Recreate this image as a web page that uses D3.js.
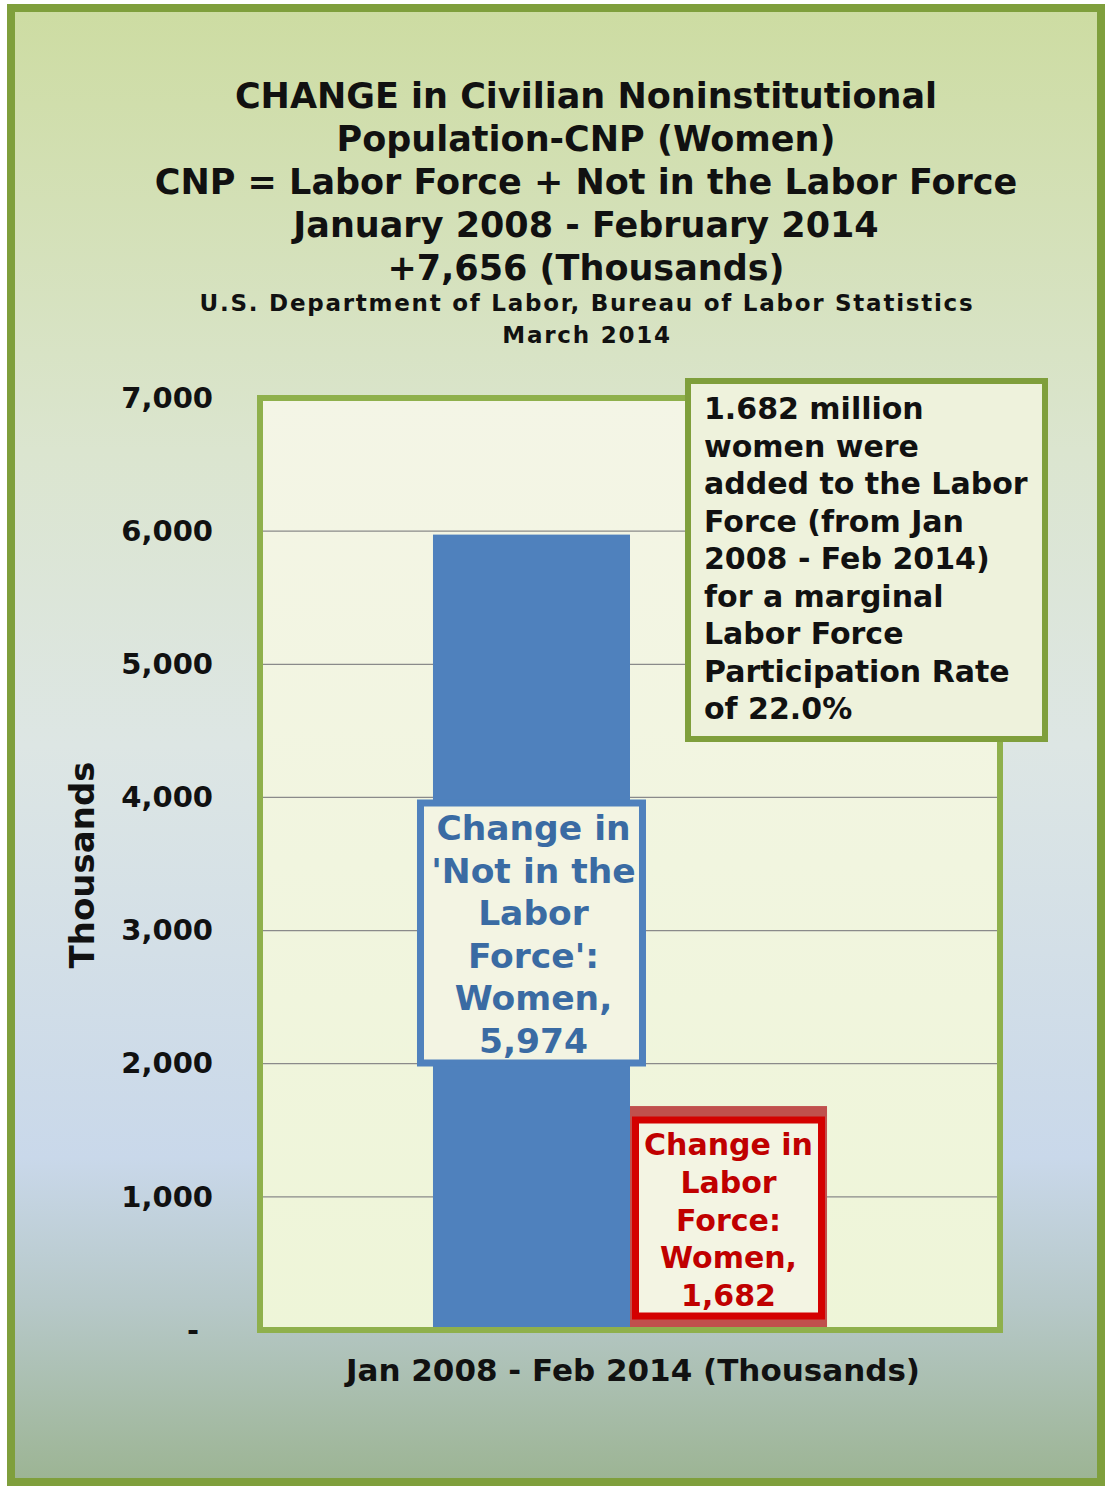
<!DOCTYPE html>
<html>
<head>
<meta charset="utf-8">
<script src="https://cdn.jsdelivr.net/npm/d3@7"></script>
<style>
  html, body { margin: 0; padding: 0; background: #ffffff; }
  svg { display: block; }
  text { font-family: "DejaVu Sans", Verdana, sans-serif; font-weight: bold; }
</style>
</head>
<body>
<script>
// ---- data ----
const category = ["Jan 2008 - Feb 2014 (Thousands)"];
const seriesNames = ["Change in 'Not in the Labor Force': Women", "Change in Labor Force: Women"];
const seriesValues = [5974, 1682];
const seriesColors = ["#4f81bd", "#c0504d"];
const yTicks = [0, 1000, 2000, 3000, 4000, 5000, 6000, 7000];
const titleLines = [
  "CHANGE in Civilian Noninstitutional",
  "Population-CNP (Women)",
  "CNP = Labor Force + Not in the Labor Force",
  "January 2008 - February 2014",
  "+7,656 (Thousands)"
];
const subtitleLines = ["U.S. Department of Labor, Bureau of Labor Statistics", "March 2014"];
const barLabels = [
  ["Change in", "'Not in the", "Labor", "Force':", "Women,", "5,974"],
  ["Change in", "Labor", "Force:", "Women,", "1,682"]
];
const noteLines = [
  "1.682 million", "women were", "added to the Labor", "Force (from Jan",
  "2008 - Feb 2014)", "for a marginal", "Labor Force", "Participation Rate", "of 22.0%"
];

const W = 1108, H = 1488;
const svg = d3.select("body").append("svg").attr("width", W).attr("height", H);
const defs = svg.append("defs");

const bg = defs.append("linearGradient").attr("id", "bg").attr("x1", 0).attr("y1", 0).attr("x2", 0).attr("y2", 1);
[[0, "#cddca2"], [0.3, "#dbe5cf"], [0.5, "#dde6e4"], [0.78, "#c9d8ea"], [0.88, "#b6c8c8"], [1, "#9cb493"]]
  .forEach(([o, c]) => bg.append("stop").attr("offset", o).attr("stop-color", c));

const pg = defs.append("linearGradient").attr("id", "pg").attr("x1", 0).attr("y1", 0).attr("x2", 0).attr("y2", 1);
[[0, "#f4f5e6"], [1, "#eef5d8"]].forEach(([o, c]) => pg.append("stop").attr("offset", o).attr("stop-color", c));

// outer frame
svg.append("rect").attr("x", 11).attr("y", 8).attr("width", 1090).attr("height", 1474)
  .attr("fill", "url(#bg)").attr("stroke", "#7f9f3c").attr("stroke-width", 8);

// title
const title = svg.append("g").attr("text-anchor", "middle").attr("fill", "#111");
titleLines.forEach((t, i) => {
  title.append("text").attr("x", 586).attr("y", 108 + i * 43).attr("font-size", 35).text(t);
});
subtitleLines.forEach((t, i) => {
  title.append("text").attr("x", 587).attr("y", 311 + i * 32).attr("font-size", 23)
    .attr("letter-spacing", 1.75).text(t);
});

// scales
const plot = { left: 260, right: 1000, top: 398, bottom: 1330 };
const y = d3.scaleLinear().domain([0, 7000]).range([plot.bottom, plot.top]);
const x0 = d3.scaleBand().domain(category).range([plot.left, plot.right]).paddingInner(0).paddingOuter(0.439);
const x1 = d3.scaleBand().domain(seriesNames).range([0, x0.bandwidth()]).padding(0);

// plot area
svg.append("rect").attr("x", plot.left).attr("y", plot.top)
  .attr("width", plot.right - plot.left).attr("height", plot.bottom - plot.top)
  .attr("fill", "url(#pg)");

// gridlines
svg.append("g").selectAll("line").data(yTicks.filter(d => d > 0 && d < 7000)).join("line")
  .attr("x1", plot.left).attr("x2", plot.right)
  .attr("y1", d => y(d)).attr("y2", d => y(d))
  .attr("stroke", "#8a8a8a").attr("stroke-width", 1.2);

// bars
const bars = svg.append("g").attr("transform", `translate(${x0(category[0])},0)`);
bars.selectAll("rect").data(seriesValues).join("rect")
  .attr("x", (d, i) => x1(seriesNames[i]))
  .attr("width", x1.bandwidth())
  .attr("y", d => y(d))
  .attr("height", d => y(0) - y(d))
  .attr("fill", (d, i) => seriesColors[i]);

// plot border
svg.append("rect").attr("x", plot.left).attr("y", plot.top)
  .attr("width", plot.right - plot.left).attr("height", plot.bottom - plot.top)
  .attr("fill", "none").attr("stroke", "#8fb04c").attr("stroke-width", 6);

// y axis
const yAxis = d3.axisLeft(y).tickValues(yTicks).tickSize(0).tickPadding(47)
  .tickFormat(d => d === 0 ? "-" : d3.format(",")(d));
const ga = svg.append("g").attr("transform", `translate(${plot.left},0)`).call(yAxis);
ga.select(".domain").remove();
ga.selectAll("text").attr("font-size", 29).attr("fill", "#111")
  .attr("font-family", "'DejaVu Sans', Verdana, sans-serif").attr("font-weight", "bold")
  .attr("dx", d => d === 0 ? -14 : 0);

// axis titles
svg.append("text").attr("x", 633).attr("y", 1381).attr("text-anchor", "middle")
  .attr("font-size", 31).attr("fill", "#111").text(category[0]);
svg.append("text").attr("transform", "translate(94,865) rotate(-90)").attr("text-anchor", "middle")
  .attr("font-size", 34).attr("fill", "#111").text("Thousands");

// bar data labels
const bx = i => x0(category[0]) + x1(seriesNames[i]) + x1.bandwidth() / 2;
// blue label
{
  const cx = bx(0);
  const boxW = 222, top = 803, bottom = 1063;
  svg.append("rect").attr("x", cx - boxW / 2).attr("y", top).attr("width", boxW).attr("height", bottom - top)
    .attr("fill", "#f3f4e3").attr("stroke", "#4f81bd").attr("stroke-width", 7);
  barLabels[0].forEach((t, i) => {
    svg.append("text").attr("x", cx + 2).attr("y", 840 + i * 42.6).attr("text-anchor", "middle")
      .attr("font-size", 34.5).attr("fill", "#3a6ba3").text(t);
  });
}
// red label
{
  const cx = bx(1);
  const boxW = 186, top = 1120, bottom = 1316;
  svg.append("rect").attr("x", cx - boxW / 2).attr("y", top).attr("width", boxW).attr("height", bottom - top)
    .attr("fill", "#f3f4e3").attr("stroke", "#d40000").attr("stroke-width", 7);
  barLabels[1].forEach((t, i) => {
    svg.append("text").attr("x", cx).attr("y", 1155 + i * 37.75).attr("text-anchor", "middle")
      .attr("font-size", 30).attr("fill", "#c00000").text(t);
  });
}

// annotation box
svg.append("rect").attr("x", 688).attr("y", 381).attr("width", 357).attr("height", 358)
  .attr("fill", "#eef2dc").attr("stroke", "#7f9f3c").attr("stroke-width", 6);
noteLines.forEach((t, i) => {
  svg.append("text").attr("x", 704).attr("y", 419 + i * 37.5).attr("font-size", 30)
    .attr("fill", "#111").text(t);
});
</script>
</body>
</html>
